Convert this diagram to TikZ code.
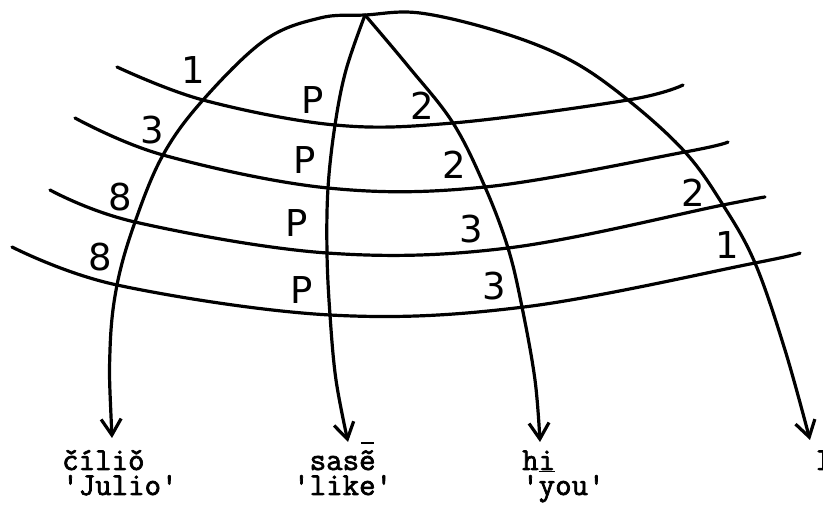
\documentclass[tikz,border=0pt]{standalone}
\usepackage{fontspec}
\newfontfamily\hand{DejaVu Sans}
\newfontfamily\tw{Latin Modern Mono}[FakeBold=2.2]
\usetikzlibrary{arrows.meta}
\newcommand\caronover[1]{\ooalign{#1\cr ˇ\cr}}
\newcommand\tildebar[1]{\ooalign{#1\cr ˜\cr\hidewidth\raisebox{0.82em}{\rule{0.4em}{0.07em}}\hidewidth\cr}}
\begin{document}
\begin{tikzpicture}[x=1pt,y=-1pt,
  line/.style={line width=3.2pt, line cap=round, line join=round},
  arr/.style={line, -{Straight Barb[length=16pt,width=20pt]}},
  darr/.style={line, {Straight Barb[length=16pt,width=20pt]}-{Straight Barb[length=16pt,width=20pt]}},
  num/.style={font=\hand\fontsize{37}{37}\selectfont, inner sep=0pt},
  word/.style={font=\tw\fontsize{32}{25}\selectfont, inner sep=0pt, anchor=base west}
]
\useasboundingbox (0,0) rectangle (823,510);
% named points
\coordinate (apex) at (365,15);
\coordinate (tJ) at (112,438);
\coordinate (tL) at (348,442);
\coordinate (tY) at (540,442);
\coordinate (tI) at (810,440);
% horizontal curves
\draw[line] plot[smooth,tension=0.6] coordinates {(117,67) (203,100) (335,125) (453,123) (628,100) (683,85)};
\draw[line] plot[smooth,tension=0.6] coordinates {(75,118) (163,155) (328,188) (485,187) (685,152) (728,142)};
\draw[line] plot[smooth,tension=0.6] coordinates {(50,190) (135,222) (327,253) (508,248) (723,205) (765,197)};
\draw[line] plot[smooth,tension=0.6] coordinates {(12,247) (117,285) (330,315) (524,307) (755,263) (800,253)};
% big arc
\draw[darr] plot[smooth,tension=0.6] coordinates {(tJ) (110,350) (117,285) (135,222) (163,155) (203,100) (265,40) (320,18) (apex) (420,13) (500,32) (570,60) (628,100) (685,152) (723,205) (755,263) (785,350) (tI)};
% inner arrows
\draw[arr] plot[smooth,tension=0.6] coordinates {(apex) (346,70) (335,125) (328,188) (327,253) (330,315) (336,380) (tL)};
\draw[arr] plot[smooth,tension=0.6] coordinates {(apex) (408,66) (453,123) (485,187) (508,248) (522,307) (535,380) (tY)};
% labels
\node[num] (n1) at (193,70) {1};
\node[num] (n2) at (313,100) {P};
\node[num] (n3) at (422,106) {2};
\node[num] (n4) at (152,130) {3};
\node[num] (n5) at (305,160) {P};
\node[num] (n6) at (454,165) {2};
\node[num] (n7) at (120,197) {8};
\node[num] (n8) at (297,223) {P};
\node[num] (n9) at (471,229) {3};
\node[num] (n10) at (693,193) {2};
\node[num] (n11) at (100,257) {8};
\node[num] (n12) at (302,290) {P};
\node[num] (n13) at (494,286) {3};
\node[num] (n14) at (727,245) {1};
% words
\node[word, align=left] (w1) at (62,495) {číli\caronover{o}\\'Julio'};
\node[word, align=center] (w2) at (293,495) {sas\tildebar{e}\\'like'};
\node[word, align=left] (w3) at (522,495) {h\underline{i}\\'you'};
\node[word] (w4) at (815,470) {I};
\end{tikzpicture}
\end{document}
